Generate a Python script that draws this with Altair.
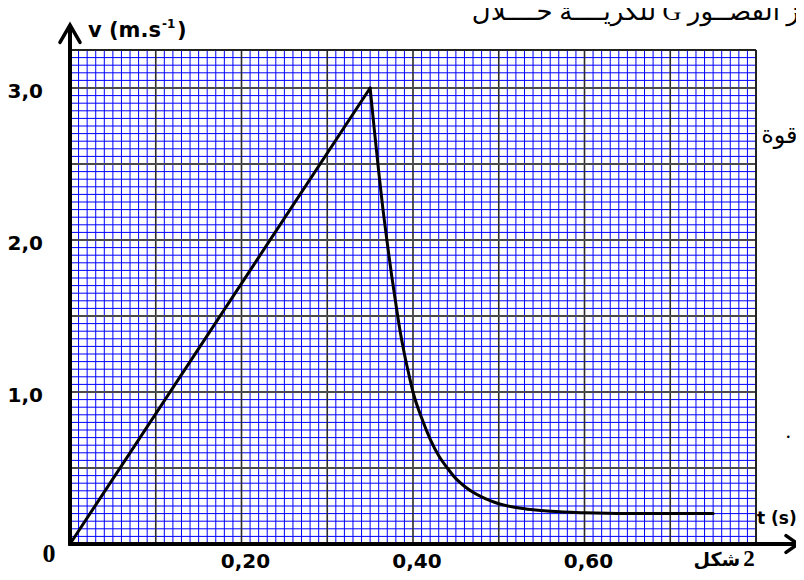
import altair as alt
import pandas as pd

# ---- curve values (t in s, v in m/s) ----
rise_t = [0.0, 0.35]
rise_v = [0.0, 3.0]
decay_t = [0.35, 0.355, 0.36, 0.365, 0.37, 0.375, 0.38, 0.385, 0.39, 0.395, 0.40,
           0.41, 0.42, 0.43, 0.44, 0.45, 0.46, 0.47, 0.48, 0.49, 0.50, 0.52, 0.54,
           0.56, 0.60, 0.65, 0.70, 0.75]
decay_v = [3.0, 2.72, 2.45, 2.2, 1.98, 1.77, 1.58, 1.4, 1.25, 1.12, 1.0,
           0.83, 0.69, 0.58, 0.5, 0.43, 0.38, 0.34, 0.31, 0.285, 0.265, 0.24, 0.225,
           0.215, 0.205, 0.2, 0.2, 0.2]

# ---- tick labels ----
x_tick_vals = [0.2, 0.4, 0.6]
x_tick_labels = ["0,20", "0,40", "0,60"]
y_tick_vals = [1.0, 2.0, 3.0]
y_tick_labels = ["1,0", "2,0", "3,0"]

# ---- grid (graph paper) ----
T_MAX, V_MAX = 0.8, 3.25
minor_t = [round(i * 0.01, 2) for i in range(1, 80) if i % 10 != 0]
minor_v = [round(i * 0.05, 2) for i in range(1, 65) if i % 10 != 0]
major_t = [round(i * 0.1, 1) for i in range(1, 8)]
major_v = [round(i * 0.5, 1) for i in range(1, 7)]

xs = alt.Scale(domain=[0, T_MAX], nice=False, zero=False)
ys = alt.Scale(domain=[0, V_MAX], nice=False, zero=False)
X = lambda: alt.X("t:Q", scale=xs, axis=None)
Y = lambda: alt.Y("v:Q", scale=ys, axis=None)

minor_vert = alt.Chart(pd.DataFrame({"t": minor_t})).mark_rule(
    color="#0000ff", strokeWidth=1).encode(x=X())
minor_hor = alt.Chart(pd.DataFrame({"v": minor_v})).mark_rule(
    color="#0000ff", strokeWidth=1).encode(y=Y())
major_vert = alt.Chart(pd.DataFrame({"t": major_t})).mark_rule(
    color="#2a2a2a", strokeWidth=1.6).encode(x=X())
major_hor = alt.Chart(pd.DataFrame({"v": major_v})).mark_rule(
    color="#4a4a4a", strokeWidth=2).encode(y=Y())
border_top = alt.Chart(pd.DataFrame({"v": [V_MAX]})).mark_rule(
    color="#222222", strokeWidth=2).encode(y=Y())
border_right = alt.Chart(pd.DataFrame({"t": [T_MAX]})).mark_rule(
    color="#222222", strokeWidth=2).encode(x=X())

rise = alt.Chart(pd.DataFrame({"t": rise_t, "v": rise_v})).mark_line(
    color="black", strokeWidth=3, strokeCap="round").encode(x=X(), y=Y())
decay = alt.Chart(pd.DataFrame({"t": decay_t, "v": decay_v})).mark_line(
    color="black", strokeWidth=3, interpolate="monotone", strokeCap="round",
    strokeJoin="round").encode(x=X(), y=Y(), order="t:Q")

# ---- axes with arrows (data coordinates beyond the plot) ----
axes_df = pd.DataFrame({
    "id": ["ya", "ya", "xa", "xa"],
    "o": [0, 1, 0, 1],
    "t": [0.0, 0.0, -0.002, 0.849],
    "v": [-0.01, 3.41, 0.0, 0.0],
})
axes = alt.Chart(axes_df).mark_line(color="black", strokeWidth=4, clip=False).encode(
    x=X(), y=Y(), detail="id:N", order="o:Q")
heads_df = pd.DataFrame({
    "id": ["yh", "yh", "yh", "xh", "xh", "xh"],
    "o": [0, 1, 2, 0, 1, 2],
    "t": [-0.0117, 0.0, 0.0117, 0.835, 0.849, 0.835],
    "v": [3.30, 3.414, 3.30, 0.055, 0.0, -0.055],
})
heads = alt.Chart(heads_df).mark_line(color="black", strokeWidth=3.5, clip=False,
                                      strokeCap="round", strokeJoin="miter").encode(
    x=X(), y=Y(), detail="id:N", order="o:Q")

FONT = "DejaVu Sans"
xlab = alt.Chart(pd.DataFrame({"t": x_tick_vals, "v": [0] * 3, "s": x_tick_labels})).mark_text(
    font=FONT, fontWeight="bold", fontSize=20, align="center", baseline="alphabetic",
    dx=4, dy=24, clip=False).encode(x=X(), y=Y(), text="s:N")
ylab = alt.Chart(pd.DataFrame({"t": [-0.0315] * 3, "v": y_tick_vals, "s": y_tick_labels})).mark_text(
    font=FONT, fontWeight="bold", fontSize=20, align="right", baseline="alphabetic",
    dy=10, clip=False).encode(x=X(), y=Y(), text="s:N")
zero = alt.Chart(pd.DataFrame({"t": [-0.0245], "v": [0], "s": ["0"]})).mark_text(
    font="Liberation Serif", fontWeight="bold", fontSize=26, align="center",
    baseline="alphabetic", dy=18, clip=False).encode(x=X(), y=Y(), text="s:N")

vtitle = alt.Chart(pd.DataFrame({"t": [0.021], "v": [3.336], "s": ["v (m.s"]})).mark_text(
    font=FONT, fontWeight="bold", fontSize=21, align="left", baseline="alphabetic",
    clip=False).encode(x=X(), y=Y(), text="s:N")
vsup = alt.Chart(pd.DataFrame({"t": [0.1073], "v": [3.395], "s": ["-1"]})).mark_text(
    font=FONT, fontWeight="bold", fontSize=12, align="left", baseline="alphabetic",
    clip=False).encode(x=X(), y=Y(), text="s:N")
vclose = alt.Chart(pd.DataFrame({"t": [0.1248], "v": [3.336], "s": [")"]})).mark_text(
    font=FONT, fontWeight="bold", fontSize=21, align="left", baseline="alphabetic",
    clip=False).encode(x=X(), y=Y(), text="s:N")

ttitle = alt.Chart(pd.DataFrame({"t": [0.80], "v": [0.1316], "s": ["t (s)"]})).mark_text(
    font=FONT, fontWeight="bold", fontSize=17, align="left", baseline="alphabetic",
    dx=1, clip=False).encode(x=X(), y=Y(), text="s:N")
fig_ar = alt.Chart(pd.DataFrame({"t": [0.7815], "v": [0], "s": ["شكل"]})).mark_text(
    font="DejaVu Sans", fontWeight="bold", fontSize=19, align="right",
    baseline="alphabetic", dy=22, clip=False).encode(x=X(), y=Y(), text="s:N")
fig_num = alt.Chart(pd.DataFrame({"t": [0.7815], "v": [0], "s": ["2"]})).mark_text(
    font="Liberation Serif", fontWeight="bold", fontSize=23, align="left",
    baseline="alphabetic", dx=3, dy=22, clip=False).encode(x=X(), y=Y(), text="s:N")

top_text = alt.Chart(pd.DataFrame({"t": [0.4685], "v": [3.45],
                                   "s": ["\u202bمركـز القصــور G للكريــــة خــــلال\u202c"]})).mark_text(
    font="Liberation Serif, DejaVu Sans", fontSize=26, align="left", baseline="alphabetic",
    clip=False).encode(x=X(), y=Y(), text="s:N")
side_text = alt.Chart(pd.DataFrame({"t": [0.806], "v": [2.64], "s": ["قوة"]})).mark_text(
    font="Liberation Serif, DejaVu Sans", fontSize=24, align="left", baseline="alphabetic",
    clip=False).encode(x=X(), y=Y(), text="s:N")
dot_text = alt.Chart(pd.DataFrame({"t": [0.8375], "v": [0.70], "s": ["."]})).mark_text(
    font="Liberation Serif", fontSize=22, align="center", baseline="alphabetic",
    clip=False).encode(x=X(), y=Y(), text="s:N")

chart = alt.layer(
    minor_vert, minor_hor, major_vert, major_hor, border_top, border_right,
    rise, decay, axes, heads,
    xlab, ylab, zero, vtitle, vsup, vclose, ttitle, fig_ar, fig_num,
    top_text, side_text, dot_text,
).properties(
    width=686, height=494,
    autosize=alt.AutoSizeParams(type="none"),
    padding={"left": 62, "top": 42, "right": 40, "bottom": 28},
).configure_view(stroke=None)

chart.save("out.html", embed_options={"renderer": "svg", "actions": False})
